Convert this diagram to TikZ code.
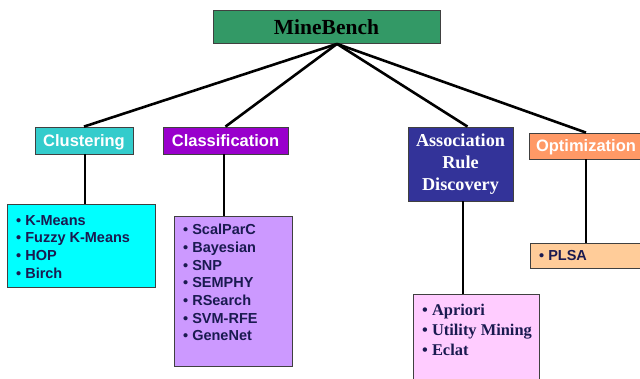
\documentclass[tikz,border=0pt]{standalone}
\usepackage{fontspec}
\setmainfont{Liberation Serif}
\setsansfont{Liberation Sans}
\usepackage{tikz}
\usetikzlibrary{positioning}

\definecolor{mbgreen}{HTML}{339966}
\definecolor{clufill}{HTML}{33CCCC}
\definecolor{clsfill}{HTML}{9900CC}
\definecolor{armfill}{HTML}{333399}
\definecolor{optfill}{HTML}{FF9966}
\definecolor{kmfill}{HTML}{00FFFF}
\definecolor{scfill}{HTML}{CC99FF}
\definecolor{apfill}{HTML}{FFCCFF}
\definecolor{plfill}{HTML}{FFCC99}
\definecolor{navy}{RGB}{26,26,80}
\definecolor{boxline}{HTML}{404040}

\tikzset{
  head/.style={draw=boxline,line width=0.8pt,text=white,inner sep=0pt,
    text height=11.8pt,text depth=0pt,
    font=\sffamily\bfseries\fontsize{16.5}{20}\selectfont},
  lbox/.style={draw=boxline,line width=0.8pt,anchor=north west,inner sep=0pt},
  items/.style={anchor=north west,align=left,text=navy,inner xsep=9pt,
    font=\sffamily\bfseries\fontsize{14.5}{17.7}\selectfont},
  link/.style={line width=2.6pt}
}

\begin{document}
\begin{tikzpicture}[x=1pt,y=-1pt]
    \useasboundingbox (0,0) rectangle (640,379);
    \clip (0,0) rectangle (640,379);

    \node[draw=boxline,line width=0.8pt,fill=mbgreen,minimum width=227pt,minimum height=33pt,
      font=\bfseries\fontsize{21.5}{24}\selectfont] (mb) at (326.5,27) {MineBench};
    \coordinate (hub) at ([xshift=10.5pt]mb.south);

    \node[head,fill=clufill,minimum width=98pt,minimum height=27pt] (clu) at (84,140.5) {Clustering};
    \node[head,fill=clsfill,minimum width=125pt,minimum height=27pt] (cls) at (225.5,140.5) {Classification};
    \node[head,fill=armfill,minimum width=105pt,minimum height=74pt,align=center,
      text height=,text depth=,
      font=\bfseries\fontsize{18.2}{22}\selectfont] (arm) at (460.5,164) {Association\\Rule\\Discovery};
    \node[head,fill=optfill,minimum width=114pt,minimum height=26pt] (opt) at (586,146) {Optimization};

    \node[lbox,fill=kmfill,minimum width=148pt,minimum height=83pt,
      label={[items,inner ysep=11pt]north west:{\textbullet\ K-Means\\\textbullet\ Fuzzy K-Means\\\textbullet\ HOP\\\textbullet\ Birch}}]
      (kmbox) at (7,204) {};
    \node[lbox,fill=scfill,minimum width=118pt,minimum height=150pt,
      label={[items,inner ysep=8pt]north west:{\textbullet\ ScalParC\\\textbullet\ Bayesian\\\textbullet\ SNP\\\textbullet\ SEMPHY\\\textbullet\ RSearch\\\textbullet\ SVM-RFE\\\textbullet\ GeneNet}}]
      (scbox) at (174,216) {};
    \node[lbox,fill=apfill,minimum width=126pt,minimum height=110pt,
      label={[items,inner ysep=9.5pt,font=\bfseries\fontsize{16.4}{20}\selectfont]north west:{\textbullet\ Apriori\\\textbullet\ Utility Mining\\\textbullet\ Eclat}}]
      (apbox) at (413,294) {};
    \node[lbox,fill=plfill,minimum width=115pt,minimum height=25pt,
      label={[items,inner ysep=7.5pt]north west:{\textbullet\ PLSA}}]
      (plbox) at (530,243) {};

    % tree links
    \draw[link] (hub) -- (clu.north);
    \draw[link] (hub) -- (cls.north);
    \draw[link] (hub) -- ([xshift=7pt]arm.north);
    \draw[link] (hub) -- (opt.north);

    \draw[link] ([xshift=1pt]clu.south) -- ([xshift=1pt]clu.south |- kmbox.north);
    \draw[link] ([xshift=-1.5pt]cls.south) -- ([xshift=-1.5pt]cls.south |- scbox.north);
    \draw[link] ([xshift=2.5pt]arm.south) -- ([xshift=2.5pt]arm.south |- apbox.north);
    \draw[link] (opt.south) -- (opt.south |- plbox.north);
\end{tikzpicture}
\end{document}
